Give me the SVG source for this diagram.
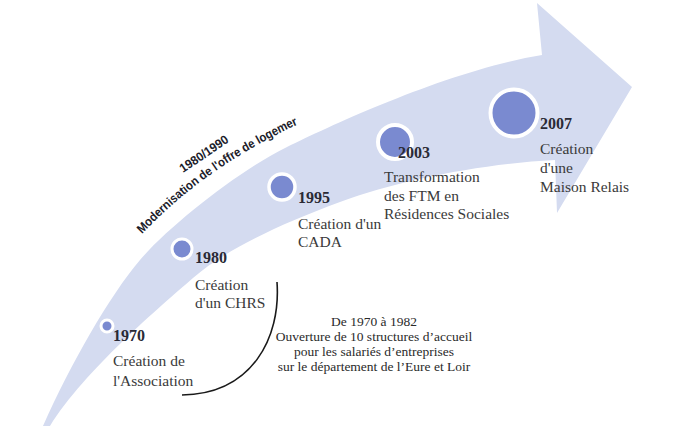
<svg xmlns="http://www.w3.org/2000/svg" width="680" height="426" viewBox="0 0 680 426">
<style>
.band{fill:#d4dbf0;}
.dot{fill:#7a8ad0;stroke:#ffffff;}
.yr{font-family:"Liberation Serif",serif;font-weight:bold;font-size:16px;fill:#2a2a35;}
.lb{font-family:"Liberation Serif",serif;font-size:15.5px;fill:#3a3a3a;}
.note{font-family:"Liberation Serif",serif;font-size:13.5px;fill:#2a2a2a;text-anchor:middle;}
.mod{font-family:"Liberation Sans",sans-serif;font-weight:bold;font-size:12.5px;fill:#1c1c2a;}
</style>
<defs>
<path id="modPath" d="M142,234 Q206,166 303,122"/>
</defs>
<rect width="680" height="426" fill="#ffffff"/>
<g id="arrow">
<path class="band" d="M43,426 C70,365 110,295 140,260 C170,225 240,170 287,147 C334,124 450,70 542,55 L537,3 L632,87 L557,213 L555,160 C480,164 400,180 340,202 C280,224 225,250 193,278 C161,306 85,370 50,426 Z"/>
</g>
<g id="connectors">
<path d="M277,282 C281,338 252,394 182,395" fill="none" stroke="#1a1a1a" stroke-width="1.6"/>
</g>
<g id="period-label">
<text class="mod" transform="translate(183,173) rotate(-34)" textLength="56" lengthAdjust="spacingAndGlyphs">1980/1990</text>
<text class="mod"><textPath href="#modPath" textLength="192" lengthAdjust="spacingAndGlyphs">Modernisation de l'offre de logemer</textPath></text>
</g>
<g id="node-1970">
<circle class="dot" cx="107" cy="326" r="6" stroke-width="3"/>
<text class="yr" x="113" y="341">1970</text>
<text class="lb" x="113" y="366">Création de</text>
<text class="lb" x="113" y="386">l'Association</text>
</g>
<g id="node-1980">
<circle class="dot" cx="182" cy="249" r="10" stroke-width="3"/>
<text class="yr" x="195" y="263">1980</text>
<text class="lb" x="195" y="290">Création</text>
<text class="lb" x="195" y="308">d'un CHRS</text>
</g>
<g id="node-1995">
<circle class="dot" cx="282" cy="187" r="13" stroke-width="3.5"/>
<text class="yr" x="298" y="203">1995</text>
<text class="lb" x="298" y="229">Création d'un</text>
<text class="lb" x="298" y="247">CADA</text>
</g>
<g id="node-2003">
<circle class="dot" cx="395" cy="142" r="17" stroke-width="4"/>
<text class="yr" x="398" y="158">2003</text>
<text class="lb" x="384" y="182">Transformation</text>
<text class="lb" x="384" y="201">des FTM en</text>
<text class="lb" x="384" y="219">Résidences Sociales</text>
</g>
<g id="node-2007">
<circle class="dot" cx="514" cy="113" r="23.5" stroke-width="4"/>
<text class="yr" x="540" y="129">2007</text>
<text class="lb" x="540" y="154">Création</text>
<text class="lb" x="540" y="173">d'une</text>
<text class="lb" x="540" y="192">Maison Relais</text>
</g>
<g id="note">
<text class="note" x="374" y="326">De 1970 à 1982</text>
<text class="note" x="374" y="341">Ouverture de 10 structures d’accueil</text>
<text class="note" x="374" y="356">pour les salariés d’entreprises</text>
<text class="note" x="374" y="371">sur le département de l’Eure et Loir</text>
</g>
</svg>
